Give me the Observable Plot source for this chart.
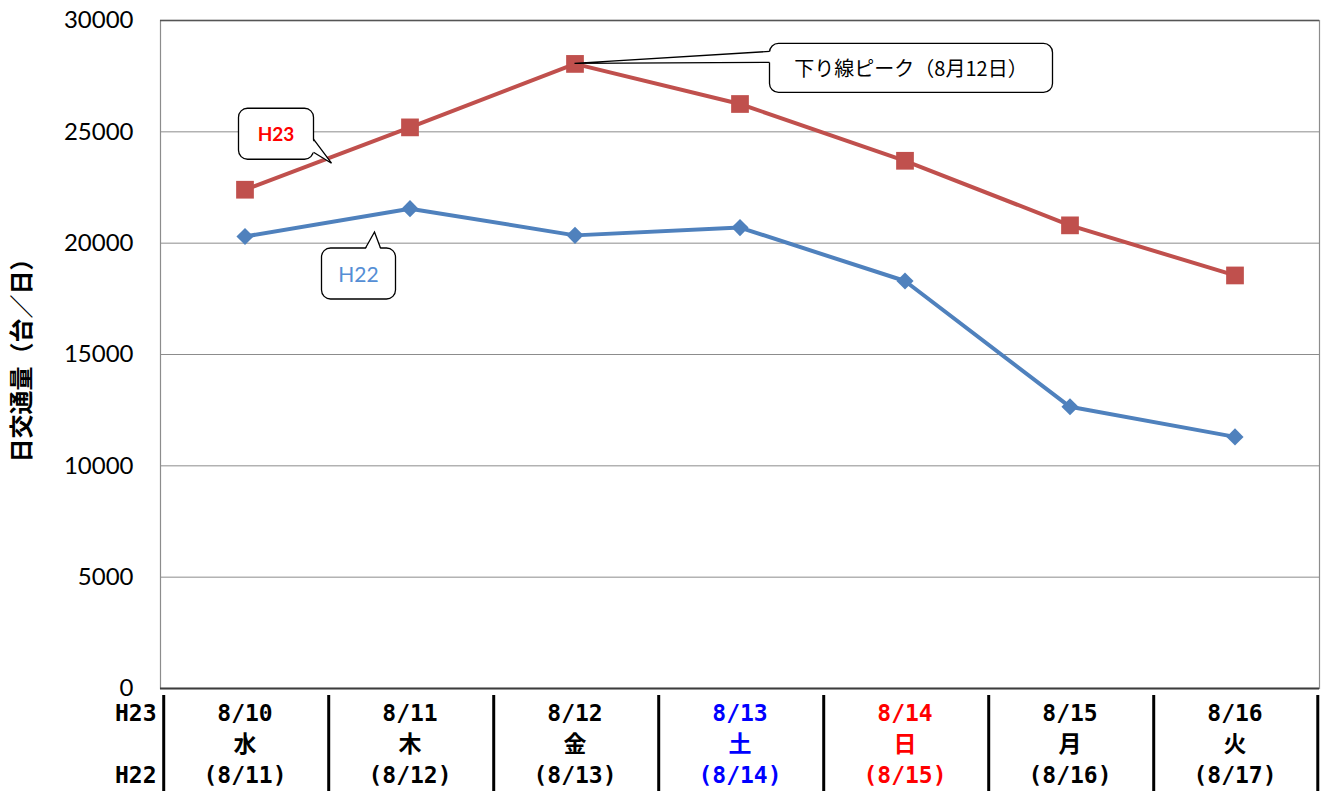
<!DOCTYPE html>
<html><head><meta charset="utf-8">
<script src="https://cdn.jsdelivr.net/npm/d3@7"></script>
<script src="https://cdn.jsdelivr.net/npm/@observablehq/plot@0.6"></script>
<style>body{margin:0;background:#fff}</style>
</head><body><div id="chart"></div>
<script>
// ---- data ----
const categories = ["8/10","8/11","8/12","8/13","8/14","8/15","8/16"];
const weekdays   = ["水","木","金","土","日","月","火"];
const prevDates  = ["(8/11)","(8/12)","(8/13)","(8/14)","(8/15)","(8/16)","(8/17)"];
const dayColors  = ["#000000","#000000","#000000","#0000FF","#FF0000","#000000","#000000"];
const h23 = [22400, 25200, 28050, 26250, 23700, 20800, 18550];
const h22 = [20300, 21550, 20350, 20700, 18300, 12650, 11300];
const yTicks = [0, 5000, 10000, 15000, 20000, 25000, 30000];
const yTitle = "日交通量（台／日）";
const rowLabels = ["H23", "H22"];
const peakNote = "下り線ピーク（8月12日）";

// ---- layout ----
const W = 1322, H = 791;
const mL = 160, mR = 3, mT = 20, mB = 103;
const bw = (W - mL - mR) / categories.length;

const rows23 = categories.map((c, i) => ({cat: c, v: h23[i]}));
const rows22 = categories.map((c, i) => ({cat: c, v: h22[i]}));
const table = categories.map((c, i) => ({cat: c, wd: weekdays[i], prev: prevDates[i], color: dayColors[i]}));

const notes = [
  {text: peakNote, cat: "8/12", v: h23[2], box: [195, -20, 478, 29], base: [[195, -12], [195, -1]], tip: [0, 0],
   fill: "#000", weight: "normal", size: 20, font: "Noto Sans CJK JP"},
  {text: "H23", cat: "8/10", v: h23[0], box: [-6, -81, 69, -30], base: [[69, -50], [69, -37]], tip: [87, -26],
   fill: "#FF0000", weight: "bold", size: 19, font: "Lato"},
  {text: "H22", cat: "8/10", v: h22[0], box: [77, 12, 151, 63], base: [[121, 12], [136, 12]], tip: [130, -4],
   fill: "#558ED5", weight: "normal", size: 21, font: "Lato"}
];

function calloutMark(index, scales) {
  const g = d3.create("svg:g");
  for (const n of notes) {
    const bwid = scales.x.bandwidth ? scales.x.bandwidth() : bw;
    const ax = scales.x(n.cat) + bwid / 2, ay = scales.y(n.v);
    const [x1, y1, x2, y2] = n.box;
    g.append("rect")
      .attr("x", ax + x1).attr("y", ay + y1)
      .attr("width", x2 - x1).attr("height", y2 - y1)
      .attr("rx", 9).attr("ry", 9)
      .attr("fill", "#fff").attr("stroke", "#000").attr("stroke-width", 1.3);
    const [b1, b2] = n.base;
    const inward = (p) => {
      let [px, py] = p;
      if (px === x1) px += 1.5; else if (px === x2) px -= 1.5;
      if (py === y1) py += 1.5; else if (py === y2) py -= 1.5;
      return [px, py];
    };
    const p1 = inward(b1), p2 = inward(b2);
    g.append("path")
      .attr("d", `M${ax + p1[0]},${ay + p1[1]}L${ax + n.tip[0]},${ay + n.tip[1]}L${ax + p2[0]},${ay + p2[1]}`)
      .attr("fill", "#fff").attr("stroke", "none");
    g.append("path")
      .attr("d", `M${ax + b1[0]},${ay + b1[1]}L${ax + n.tip[0]},${ay + n.tip[1]}L${ax + b2[0]},${ay + b2[1]}`)
      .attr("fill", "none").attr("stroke", "#000").attr("stroke-width", 1.3);
    g.append("text")
      .attr("x", ax + (x1 + x2) / 2).attr("y", ay + (y1 + y2) / 2)
      .attr("text-anchor", "middle").attr("dominant-baseline", "central")
      .attr("font-family", n.font).attr("font-size", n.size).attr("font-weight", n.weight)
      .attr("fill", n.fill).text(n.text);
  }
  return g.node();
}

const tableFont = "DejaVu Sans Mono, Noto Sans CJK JP";
const plot = Plot.plot({
  width: W, height: H,
  marginLeft: mL, marginRight: mR, marginTop: mT, marginBottom: mB,
  style: {fontFamily: "Lato, sans-serif", background: "#fff", overflow: "visible"},
  x: {type: "band", domain: categories, padding: 0, axis: null},
  y: {domain: [0, 30000], axis: null},
  color: {type: "identity"},
  marks: [
    Plot.ruleY(yTicks.filter(t => t > 0 && t < 30000), {stroke: "#8c8c8c", strokeWidth: 1}),
    Plot.frame({stroke: "#8c8c8c", strokeWidth: 1.2}),
    Plot.ruleY([30000], {stroke: "#555", strokeWidth: 1.3}),
    Plot.ruleY([0], {stroke: "#3c3c3c", strokeWidth: 2}),
    Plot.axisY({ticks: yTicks, tickSize: 0, tickPadding: 27, fontSize: 24, fontFamily: "Lato", fill: "#000", label: null, tickFormat: d => String(d)}),
    Plot.text([yTitle], {frameAnchor: "left", textAnchor: "middle", rotate: -90, dx: -138, fontSize: 24, fontWeight: "bold", fontFamily: "Noto Sans CJK JP", fill: "#000"}),
    Plot.lineY(rows22, {x: "cat", y: "v", stroke: "#4F81BD", strokeWidth: 4}),
    Plot.dot(rows22, {x: "cat", y: "v", symbol: "diamond2", r: 7.7, fill: "#4F81BD", stroke: "none"}),
    Plot.lineY(rows23, {x: "cat", y: "v", stroke: "#C0504D", strokeWidth: 4}),
    Plot.dot(rows23, {x: "cat", y: "v", symbol: "square", r: 10, fill: "#C0504D", stroke: "none"}),
    // table of dates
    Plot.ruleX(categories, {x: d => d, dx: -bw / 2 + 1.5, stroke: "#000", strokeWidth: 3, insetTop: 675, insetBottom: -mB}),
    Plot.ruleX([categories[categories.length - 1]], {x: d => d, dx: bw / 2, stroke: "#000", strokeWidth: 3, insetTop: 675, insetBottom: -mB}),
    Plot.text(table, {x: "cat", text: "cat", frameAnchor: "bottom", dy: 25, fill: "color", fontSize: 23, fontWeight: "bold", fontFamily: tableFont, lineAnchor: "middle"}),
    Plot.text(table, {x: "cat", text: "wd", frameAnchor: "bottom", dy: 56, fill: "color", fontSize: 23, fontWeight: "bold", fontFamily: tableFont, lineAnchor: "middle"}),
    Plot.text(table, {x: "cat", text: "prev", frameAnchor: "bottom", dy: 87, fill: "color", fontSize: 23, fontWeight: "bold", fontFamily: tableFont, lineAnchor: "middle"}),
    Plot.text([rowLabels[0]], {frameAnchor: "bottom-left", dx: -4, dy: 25, textAnchor: "end", fontSize: 23, fontWeight: "bold", fontFamily: tableFont, fill: "#000", lineAnchor: "middle"}),
    Plot.text([rowLabels[1]], {frameAnchor: "bottom-left", dx: -4, dy: 87, textAnchor: "end", fontSize: 23, fontWeight: "bold", fontFamily: tableFont, fill: "#000", lineAnchor: "middle"}),
    calloutMark
  ]
});
document.getElementById("chart").appendChild(plot);
</script>
</body></html>
